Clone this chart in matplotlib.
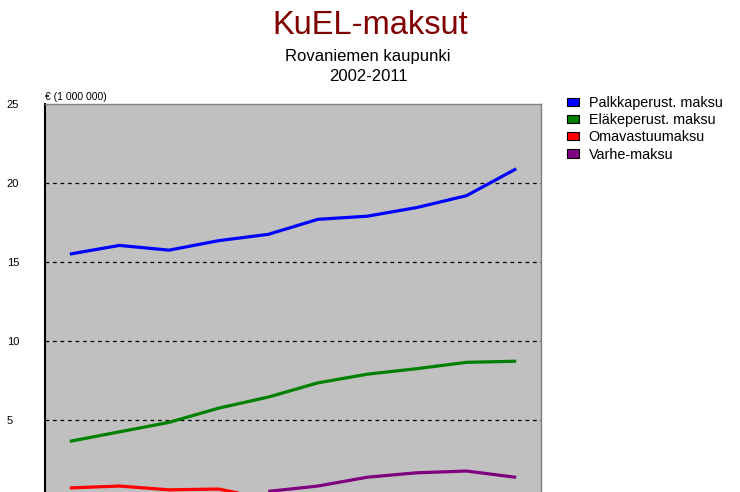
import numpy as np
import matplotlib.pyplot as plt
from matplotlib.patches import Patch

plt.rcParams['font.family'] = ['Liberation Sans', 'DejaVu Sans']

years = [2002, 2003, 2004, 2005, 2006, 2007, 2008, 2009, 2010, 2011]
palkka = [15.5, 16.05, 15.75, 16.35, 16.75, 17.7, 17.9, 18.45, 19.2, 20.9]
elake = [3.65, 4.25, 4.85, 5.75, 6.45, 7.35, 7.9, 8.25, 8.65, 8.72]
oma_years = [2002, 2003, 2004, 2005, 2006]
oma = [0.7, 0.82, 0.58, 0.63, 0.0]
varhe_years = [2006, 2007, 2008, 2009, 2010, 2011]
varhe = [0.48, 0.82, 1.38, 1.66, 1.77, 1.37]

labels = ["Palkkaperust. maksu", "Eläkeperust. maksu", "Omavastuumaksu", "Varhe-maksu"]
colors = ["#0000FF", "#008000", "#FF0000", "#800080"]

fig = plt.figure(figsize=(7.4, 4.92), dpi=100)
ax = fig.add_axes([45 / 740, -7 / 492, 496 / 740, 395 / 492])
ax.set_facecolor("#C0C0C0")

series = [(years, palkka), (years, elake), (oma_years, oma), (varhe_years, varhe)]
for (xs, ys), c in zip(series, colors):
    ax.plot(xs, ys, color=c, linewidth=2.3, solid_joinstyle="round",
            solid_capstyle="butt", zorder=3)

ax.set_xlim(2001.5, 2011.5)
ax.set_ylim(0, 25)
for v in [5, 10, 15, 20]:
    ax.axhline(v, color="black", linestyle=(0, (3, 3)), linewidth=0.9, zorder=2)

ax.set_xticks([])
ax.set_yticks([5, 10, 15, 20, 25])
ax.set_yticklabels(["5", "10", "15", "20", "25"], ha="left")
ax.tick_params(axis="y", length=0, pad=27.5, labelsize=8)

for s in ["top", "right", "bottom"]:
    ax.spines[s].set_color("#808080")
    ax.spines[s].set_linewidth(1.0)
ax.spines["left"].set_color("black")
ax.spines["left"].set_linewidth(1.5)

fig.text(45 / 740, 1 - 97 / 492, "€ (1 000 000)", fontsize=7.5, ha="left", va="center")

fig.text(370 / 740, 1 - 25 / 492, "KuEL-maksut", fontsize=23.5, color="#800000",
         ha="center", va="center")
fig.text(368 / 740, 1 - 56 / 492, "Rovaniemen kaupunki", fontsize=12,
         ha="center", va="center")
fig.text(368 / 740, 1 - 76 / 492, "2002-2011", fontsize=12,
         ha="center", va="center")

handles = [Patch(facecolor=c, edgecolor="black", linewidth=0.8) for c in colors]
fig.legend(handles, labels, loc="upper left", bbox_to_anchor=(567 / 740, 1 - 96 / 492),
           frameon=False, fontsize=10.4, handlelength=0.8, handleheight=0.5,
           handletextpad=0.7, labelspacing=0.22, borderaxespad=0, borderpad=0)

fig.savefig("out.png", dpi=100)
